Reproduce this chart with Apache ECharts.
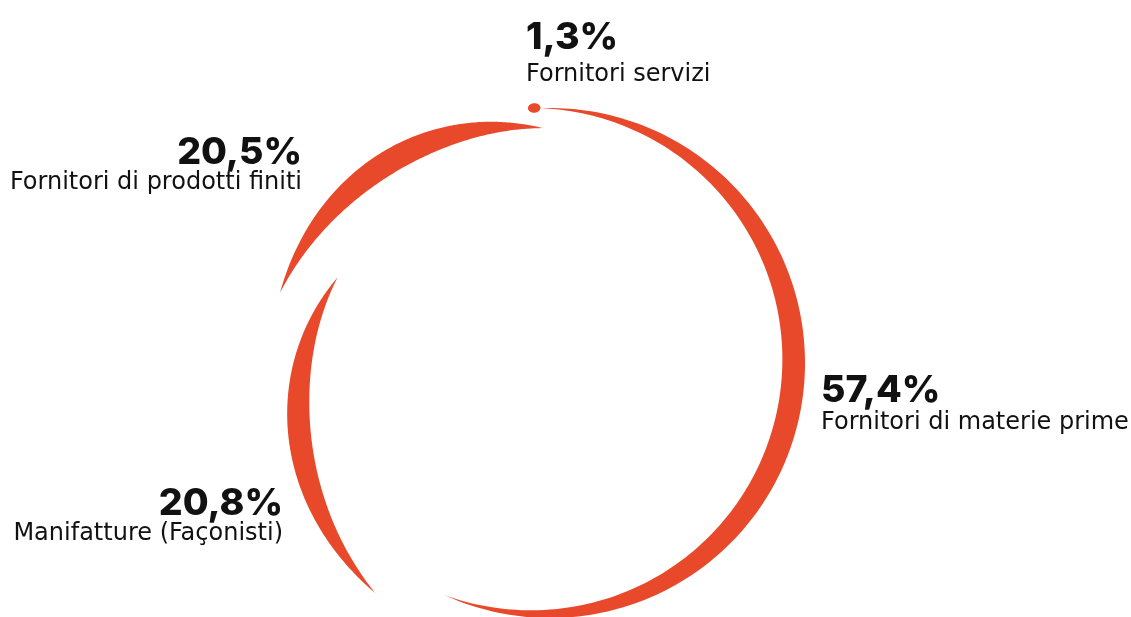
<!DOCTYPE html>
<html>
<head>
<meta charset="utf-8">
<script src="https://cdn.jsdelivr.net/npm/echarts@6/dist/echarts.min.js"></script>
<style>
html,body{margin:0;padding:0;background:#fff;}
#chart{width:1131px;height:617px;}
</style>
</head>
<body>
<div id="chart"></div>
<script>
// ---- data ----
const categories = ['Fornitori di materie prime', 'Manifatture (Façonisti)', 'Fornitori di prodotti finiti', 'Fornitori servizi'];
const values = [57.4, 20.8, 20.5, 1.3];
const valueLabels = ['57,4%', '20,8%', '20,5%', '1,3%'];

// ---- layout / style ----
const COLOR = '#E8492A';
const CENTER = [550, 363];
// per-slice shape styling: rotation shift (deg), outer radius at start / end, bulge, max thickness
const shapeStyle = [
  { shift: -2.0, r0: 255, r1: 255, bulge: 0, thick: 23, kind: 'crescent' },
  { shift: 10.5, r0: 289, r1: 229, bulge: 12.5, thick: 23, kind: 'crescent' },
  { shift: 3.0, r0: 279, r1: 235, bulge: 12.5, thick: 24, kind: 'crescent' },
  { shift: -1.2, r0: 255.5, r1: 255.5, bulge: 0, thick: 9.5, kind: 'dot', lengthScale: 0.6 }
];
const labelStyle = [
  { x: 821, yPct: 389, yName: 421.5, align: 'left' },
  { x: 283, yPct: 501.5, yName: 532.5, align: 'right' },
  { x: 302, yPct: 151, yName: 182, align: 'right' },
  { x: 526, yPct: 35.5, yName: 73.5, align: 'left' }
];
const PCT_FONT = 'Inter, "Noto Sans", sans-serif';
const NAME_FONT = '"DejaVu Sans", "Noto Sans", sans-serif';

const total = values.reduce((a, b) => a + b, 0);
const cum = [];
values.reduce((acc, v, i) => { cum[i] = acc; return acc + v; }, 0);

function pt(theta, r) {
  const a = theta * Math.PI / 180;
  return [CENTER[0] + r * Math.sin(a), CENTER[1] - r * Math.cos(a)];
}

function renderItem(params, api) {
  const i = params.dataIndex;
  const v = api.value(0);
  const s = shapeStyle[i];
  let start = cum[i] / total * 360 + s.shift;
  let span = v / total * 360;
  if (s.lengthScale) {
    const mid = start + span / 2;
    span *= s.lengthScale;
    start = mid - span / 2;
  }
  const N = 160;
  const outer = [], inner = [];
  for (let k = 0; k <= N; k++) {
    const t = k / N;
    const th = start + span * t;
    let ro, ri;
    if (s.kind === 'dot') {
      const prof = Math.sqrt(Math.max(0, 1 - (2 * t - 1) * (2 * t - 1)));
      ro = s.r0 + s.thick / 2 * prof;
      ri = s.r0 - s.thick / 2 * prof;
    } else {
      const prof = Math.sin(Math.PI * t);
      ro = s.r0 + (s.r1 - s.r0) * t + s.bulge * Math.sin(Math.PI * t);
      ri = ro - s.thick * prof;
    }
    outer.push(pt(th, ro));
    inner.push(pt(th, ri));
  }
  const points = outer.concat(inner.reverse());
  const L = labelStyle[i];
  return {
    type: 'group',
    children: [
      { type: 'polygon', shape: { points: points }, style: { fill: COLOR } },
      {
        type: 'text', x: L.x, y: L.yPct + 2.2,
        style: { text: valueLabels[i], fill: '#111', fontSize: 37.5, fontWeight: 800, fontFamily: PCT_FONT, align: L.align, verticalAlign: 'middle' }
      },
      {
        type: 'text', x: L.x, y: L.yName + 1.2,
        style: { text: categories[i], fill: '#111', fontSize: 24, fontWeight: 400, fontFamily: NAME_FONT, align: L.align, verticalAlign: 'middle' }
      }
    ]
  };
}

const chart = echarts.init(document.getElementById('chart'), null, { renderer: 'canvas' });
chart.setOption({
  backgroundColor: '#ffffff',
  animation: false,
  series: [{
    type: 'custom',
    coordinateSystem: 'none',
    renderItem: renderItem,
    data: values.map((v, i) => [v, i])
  }]
});
</script>
</body>
</html>
